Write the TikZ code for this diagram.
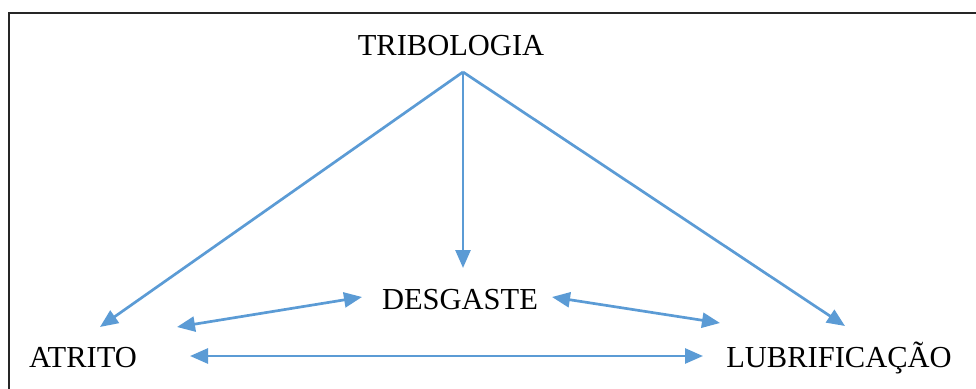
\documentclass[tikz,border=0pt]{standalone}
\usepackage{fontspec}
\setmainfont{Liberation Serif}
\usetikzlibrary{arrows.meta}
\definecolor{arrowblue}{RGB}{91,155,213}
\tikzset{
  tip/.tip={Triangle[length=18pt,width=15pt]},
  term/.style={inner sep=0pt, anchor=base, font=\fontsize{30.5}{36}\selectfont, text=black},
  link/.style={draw=arrowblue, line width=2.7pt, -tip},
  twoway/.style={link, tip-tip},
}
\begin{document}
\begin{tikzpicture}[x=1pt,y=-1pt]
  \useasboundingbox (0,0) rectangle (976,388);
  \clip (0,0) rectangle (976,388);
  % outer frame, running past the right and bottom edges
  \draw[line width=2.6pt, black!85] (9,13) rectangle (1000,420);

  % terms
  \node[term] (trib) at (451,55) {TRIBOLOGIA};
  \node[term] (desg) at (460,309) {DESGASTE};
  \node[term] (atri) at (83,367) {ATRITO};
  \node[term] (lubr) at (839,367) {LUBRIFICAÇÃO};

  % arrow end points around the terms
  \coordinate (apex) at (463,72);
  \coordinate (atriTop) at (100,327);
  \coordinate (atriRight) at (177,327);
  \coordinate (atriLow) at (190,356);
  \coordinate (desgTop) at (463,268);
  \coordinate (desgLeft) at (362,297);
  \coordinate (desgRight) at (552,297);
  \coordinate (lubrTop) at (845,326);
  \coordinate (lubrLeft) at (720,323);
  \coordinate (lubrLow) at (703,356);

  % connectors
  \draw[link] (apex) -- (atriTop);
  \draw[link] (apex) -- (desgTop);
  \draw[link] (apex) -- (lubrTop);
  \draw[twoway] (atriRight) -- (desgLeft);
  \draw[twoway] (desgRight) -- (lubrLeft);
  \draw[twoway] (atriLow) -- (lubrLow);
\end{tikzpicture}
\end{document}
